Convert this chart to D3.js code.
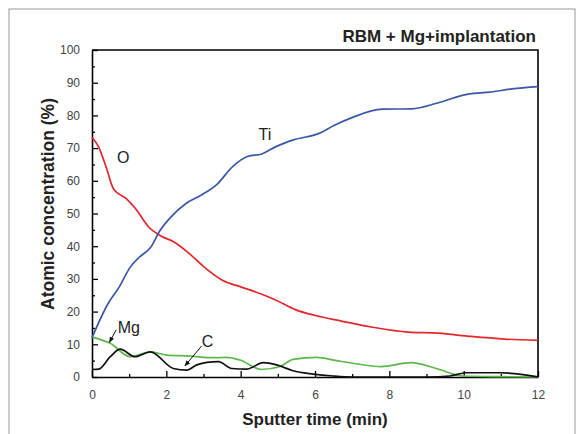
<html>
  <head>
    <title>Atomic concentration vs sputter time</title>
    <script src="https://d3js.org/d3.v7.min.js"></script>
    <style>
      body { margin: 0; background: #fff; }
      text { font-family: Arial, "Liberation Sans", sans-serif; }
    </style>
  </head>
  <body>
    <svg width="582" height="434" id="chart"></svg>
  </body>

  <script type="text/javascript">
    // values (time in min, concentration in %)
    var tiTime = [0, 0.43, 0.73, 1.03, 1.28, 1.58, 1.83, 2.12, 2.52, 2.92, 3.37, 3.77, 4.2, 4.57, 4.92, 5.42, 6.11, 6.51, 7.01, 7.81, 8.61, 9.3, 10.15, 10.7, 11.3, 12];
    var tiValues = [12, 22.4, 27.5, 33.6, 36.7, 39.7, 44.8, 48.9, 53, 55.5, 59, 64.2, 67.5, 68.2, 70.3, 72.5, 74.5, 76.9, 79.4, 81.9, 82, 83.8, 86.6, 87.1, 88.1, 88.8];

    var oTime = [0, 0.18, 0.38, 0.58, 0.93, 1.18, 1.53, 1.83, 2.22, 2.62, 3.02, 3.52, 4.02, 4.57, 4.97, 5.47, 6.01, 6.71, 7.51, 8.51, 9.31, 10.2, 11.1, 12];
    var oValues = [73.3, 70.3, 64.2, 57.5, 54.5, 51.4, 45.8, 43.3, 41.2, 37.7, 33.6, 29.5, 27.5, 25.3, 23.4, 20.6, 18.8, 17.1, 15.3, 13.7, 13.4, 12.4, 11.6, 11.2];

    var cTime = [0, 0.49, 1.03, 1.57, 2.01, 2.64, 3.27, 3.62, 3.98, 4.56, 5.06, 5.41, 6.04, 6.58, 7.02, 7.78, 8.59, 9.26, 9.98, 11, 12];
    var cValues = [12.2, 10.3, 6.2, 7.7, 6.7, 6.4, 5.9, 6, 5.2, 2.3, 3.2, 5.4, 6, 5, 4.2, 3.2, 4.4, 2.6, 0.3, 0.1, 0];

    var mgTime = [0, 0.18, 0.49, 0.76, 1.16, 1.57, 2.19, 2.55, 2.82, 3.09, 3.4, 3.76, 4.16, 4.61, 4.97, 5.41, 5.95, 6.49, 7, 8, 9, 9.63, 10.07, 10.96, 11.95, 12];
    var mgValues = [2.3, 2.4, 6.2, 8.5, 6.2, 7.7, 2.6, 2.1, 3.7, 4.5, 4.7, 2.6, 2.4, 4.4, 3.7, 1.9, 0.9, 0.3, 0, 0, 0, 0.3, 1.3, 1.3, 0.1, 0];

    var xTicks = [0, 2, 4, 6, 8, 10, 12];
    var yTicks = [0, 10, 20, 30, 40, 50, 60, 70, 80, 90, 100];

    var svg = d3.select("#chart");
    var plotLeft = 92, plotRight = 538, plotTop = 50, plotBottom = 377;

    var x = d3.scaleLinear().domain([0, 12]).range([plotLeft, plotRight]);
    var y = d3.scaleLinear().domain([0, 100]).range([plotBottom, plotTop]);

    // outer frame of the figure
    svg.append("rect")
      .attr("x", 9).attr("y", 9).attr("width", 566).attr("height", 440)
      .attr("fill", "none").attr("stroke", "#9a9a9a").attr("stroke-width", 1);

    // minor ticks
    svg.append("g")
      .attr("transform", "translate(0," + plotBottom + ")")
      .call(d3.axisBottom(x).tickValues(d3.range(1, 12, 2)).tickSize(-3).tickFormat(""))
      .call(function(g){ g.select(".domain").remove(); });
    svg.append("g")
      .attr("transform", "translate(" + plotLeft + ",0)")
      .call(d3.axisLeft(y).tickValues(d3.range(5, 100, 10)).tickSize(-3).tickFormat(""))
      .call(function(g){ g.select(".domain").remove(); });

    // major axes, ticks pointing inwards
    var xAxis = svg.append("g")
      .attr("transform", "translate(0," + plotBottom + ")")
      .call(d3.axisBottom(x).tickValues(xTicks).tickSize(-6).tickPadding(13).tickSizeOuter(0));
    var yAxis = svg.append("g")
      .attr("transform", "translate(" + plotLeft + ",0)")
      .call(d3.axisLeft(y).tickValues(yTicks).tickSize(-6).tickPadding(12).tickSizeOuter(0));

    [xAxis, yAxis].forEach(function(g){
      g.attr("font-size", 12).attr("font-family", "Arial, 'Liberation Sans', sans-serif");
      g.select(".domain").attr("stroke-width", 1.6);
      g.selectAll("text").attr("fill", "#444");
    });
    svg.selectAll(".tick line").attr("stroke-width", 1.3);

    // top and right frame
    svg.append("path")
      .attr("d", "M" + plotLeft + "," + plotTop + "H" + plotRight + "V" + plotBottom)
      .attr("fill", "none").attr("stroke", "#000").attr("stroke-width", 1.6);

    var generator = d3.line()
      .x(function(d){ return x(d[0]); })
      .y(function(d){ return y(d[1]); })
      .curve(d3.curveMonotoneX);

    function draw(times, values, color) {
      svg.append("path")
        .attr("d", generator(d3.zip(times, values)))
        .attr("fill", "none")
        .attr("stroke", color)
        .attr("stroke-width", 1.7);
    }

    draw(cTime, cValues, "#5cb84a");
    draw(mgTime, mgValues, "#111111");
    draw(oTime, oValues, "#e3262c");
    draw(tiTime, tiValues, "#3a58a8");

    // labels
    svg.append("text").attr("x", 536).attr("y", 42).attr("text-anchor", "end")
      .attr("font-size", 17).attr("font-weight", "bold").attr("fill", "#222")
      .text("RBM + Mg+implantation");

    svg.append("text").attr("x", 315).attr("y", 425).attr("text-anchor", "middle")
      .attr("font-size", 17).attr("font-weight", "bold").attr("fill", "#222")
      .text("Sputter time (min)");

    svg.append("text")
      .attr("transform", "translate(54,204) rotate(-90)")
      .attr("text-anchor", "middle")
      .attr("font-size", 17.5).attr("font-weight", "bold").attr("fill", "#222")
      .text("Atomic concentration (%)");

    var labels = [
      {name: "O", t: 0.84, v: 67.3},
      {name: "Ti", t: 4.65, v: 74.3},
      {name: "Mg", t: 0.99, v: 15.3},
      {name: "C", t: 3.11, v: 10.8}
    ];
    svg.selectAll(".lbl").data(labels).enter().append("text")
      .attr("class", "lbl")
      .attr("x", function(d){ return x(d.t); })
      .attr("y", function(d){ return y(d.v); })
      .attr("dy", "0.35em")
      .attr("text-anchor", "middle")
      .attr("font-size", 16).attr("fill", "#222")
      .text(function(d){ return d.name; });

    // arrows
    svg.append("defs").append("marker")
      .attr("id", "arrow").attr("viewBox", "0 0 10 10")
      .attr("refX", 9).attr("refY", 5)
      .attr("markerWidth", 6).attr("markerHeight", 6)
      .attr("orient", "auto")
      .append("path").attr("d", "M0,1L10,5L0,9Z").attr("fill", "#111");

    var arrows = [
      {t1: 0.65, v1: 14.4, t2: 0.47, v2: 10.6},
      {t1: 2.95, v1: 9.5, t2: 2.5, v2: 3.4}
    ];
    svg.selectAll(".arr").data(arrows).enter().append("line")
      .attr("class", "arr")
      .attr("x1", function(d){ return x(d.t1); })
      .attr("y1", function(d){ return y(d.v1); })
      .attr("x2", function(d){ return x(d.t2); })
      .attr("y2", function(d){ return y(d.v2); })
      .attr("stroke", "#111").attr("stroke-width", 1)
      .attr("marker-end", "url(#arrow)");
  </script>
</html>
